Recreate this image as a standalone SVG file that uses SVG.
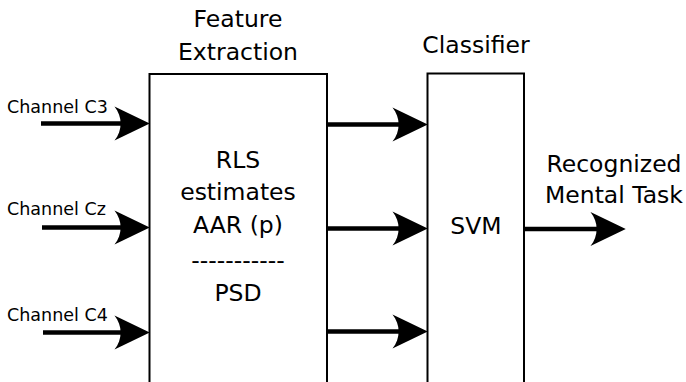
<svg xmlns="http://www.w3.org/2000/svg" width="686" height="382" viewBox="0 0 686 382">
  <defs>
    <!-- concave arrowhead; tip sits 10 units past the line end so the butt cap stays hidden -->
    <marker id="arrow" markerUnits="userSpaceOnUse" markerWidth="40" markerHeight="40" viewBox="-22 -16 34 32" refX="0" refY="0" orient="auto" overflow="visible">
      <path d="M 10,0 L -20,-14.5 C -13,-6 -13,6 -20,14.5 Z" fill="#000"/>
    </marker>
  </defs>
  <style>
    .box { fill: #fff; stroke: #000; stroke-width: 2; }
    .wire { stroke: #000; stroke-width: 4.5; fill: none; marker-end: url(#arrow); }
    text { font-family: "DejaVu Sans", sans-serif; fill: #000; }
    .lbl { font-size: 23.5px; text-anchor: middle; }
    .ch { font-size: 17.5px; }
  </style>
  <rect width="686" height="382" fill="#fff"/>

  <g id="feature-extraction">
    <rect class="box" x="149.5" y="74" width="177.5" height="320"/>
    <text class="lbl" x="238" y="27">Feature</text>
    <text class="lbl" x="238" y="60">Extraction</text>
    <text class="lbl" x="238" y="168">RLS</text>
    <text class="lbl" x="238" y="200">estimates</text>
    <text class="lbl" x="238" y="233">AAR (p)</text>
    <text class="lbl" x="238" y="268">-----------</text>
    <text class="lbl" x="238" y="301">PSD</text>
  </g>

  <g id="classifier">
    <rect class="box" x="427.5" y="73.5" width="96.5" height="320"/>
    <text class="lbl" x="476" y="53">Classifier</text>
    <text class="lbl" x="476" y="234">SVM</text>
  </g>

  <g id="inputs">
    <text class="ch" x="7" y="113">Channel C3</text>
    <text class="ch" x="7" y="215">Channel Cz</text>
    <text class="ch" x="7" y="321">Channel C4</text>
  </g>

  <g id="output">
    <text class="lbl" x="614" y="172">Recognized</text>
    <text class="lbl" x="614" y="203">Mental Task</text>
  </g>

  <g id="connectors">
    <line class="wire" x1="41" y1="123.5" x2="138" y2="123.5"/>
    <line class="wire" x1="42" y1="227.5" x2="138" y2="227.5"/>
    <line class="wire" x1="43" y1="332.5" x2="138" y2="332.5"/>
    <line class="wire" x1="327" y1="124.5" x2="416" y2="124.5"/>
    <line class="wire" x1="327" y1="228.5" x2="416" y2="228.5"/>
    <line class="wire" x1="327" y1="331.5" x2="416" y2="331.5"/>
    <line class="wire" x1="524" y1="229" x2="614" y2="229"/>
  </g>
</svg>
